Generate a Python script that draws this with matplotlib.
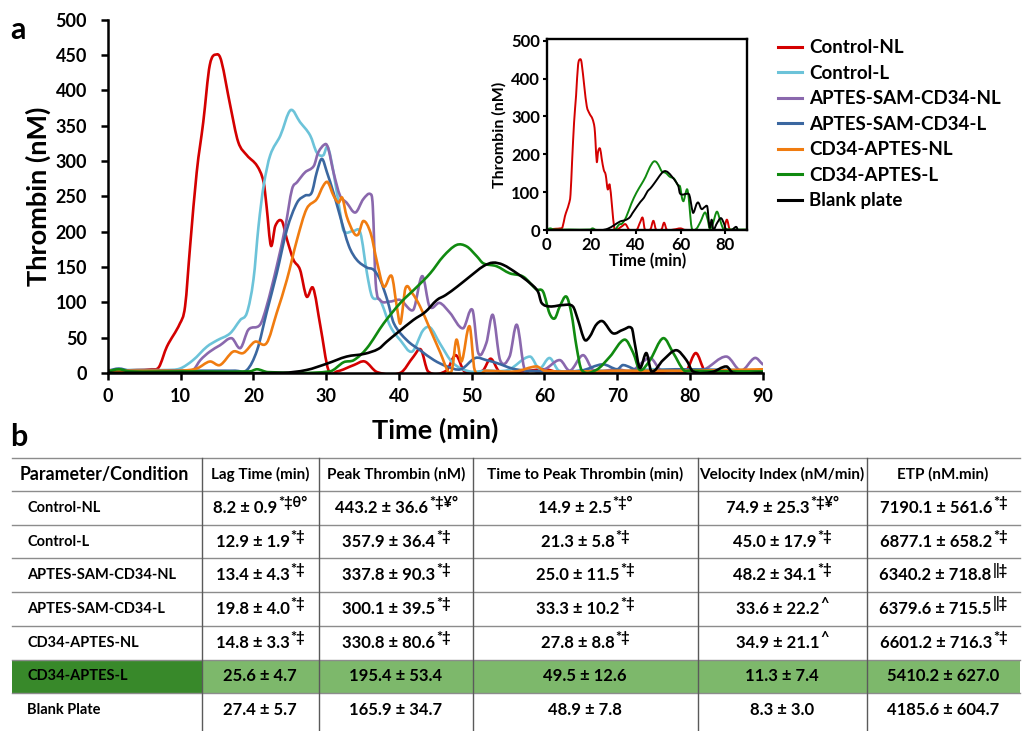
import matplotlib
matplotlib.use("Agg")
import matplotlib.pyplot as plt
from matplotlib.path import Path
from matplotlib.patches import PathPatch
from matplotlib.lines import Line2D

plt.rcParams['font.family'] = ['Lato', 'DejaVu Sans']
plt.rcParams['font.weight'] = 'bold'

# ---- thrombin generation curves (time in min, thrombin in nM) ----
ctrl_nl_t = [0, 2, 4, 6, 7, 8.1, 9.9, 10.6, 11.3, 12.2, 13.1, 14.0, 15.0, 15.6, 16.8, 17.9, 19.1, 20.5,
             21.4, 21.8, 22.4, 23.0, 23.9, 24.6, 25.5, 26.4, 27.3, 28.2, 29.2, 30.3, 31.5, 33.8, 35.3, 37,
             40.2, 42.0, 43.0, 44.0, 46.5, 47.8, 49.0, 51.5, 52.6, 53.8, 57, 60, 62, 78, 79.5, 80.8, 82.0, 83, 90]
ctrl_nl_v = [2, 3, 4, 5, 8, 37, 70, 94, 180, 284, 355, 436, 451, 441, 379, 327, 308, 293,
             270, 236, 180, 208, 215, 189, 160, 146, 108, 120, 66, 4, 2, 11, 16, 1,
             0, 23, 33, 2, 3, 25, 2, 3, 20, 2, 2, 5, 1, 1, 3, 28, 3, 1, 1]

ctrl_l_t = [0, 3, 6, 8, 9.9, 11.7, 13.6, 15, 16.8, 18.2, 19.1, 20.0, 20.7, 21.4, 22.3, 23.7, 25.1, 26.4,
            27.8, 28.7, 29.6, 30.2, 31.0, 31.9, 32.4, 33.8, 34.7, 35.6, 36.3, 37.4, 38.8, 40.2, 41.8, 43.3,
            44.3, 45.6, 47.4, 49.7, 52, 55, 58.0, 59.3, 60.7, 62.0, 66, 70, 75, 80, 85, 90]
ctrl_l_v = [3, 4, 4, 4, 6, 18, 37, 46, 56, 75, 85, 132, 208, 265, 308, 336, 372, 355,
            336, 312, 308, 320, 284, 227, 201, 201, 198, 141, 108, 103, 66, 46, 30, 60,
            64, 42, 14, 2, 3, 4, 23, 6, 21, 3, 4, 2, 5, 3, 4, 3]

sam_nl_t = [0, 4, 8, 10, 11.7, 12.7, 14.0, 15.4, 17.0, 18.2, 19.3, 20.9, 21.8, 23.2, 24.4, 25.3, 26.0,
            27.1, 28.3, 28.9, 29.9, 30.3, 31.0, 31.9, 32.8, 34.0, 35.1, 36.1, 36.4, 36.8, 37.4, 38.8, 40.2,
            41.6, 42.1, 43.2, 44.2, 45.6, 47.0, 48.8, 50.1, 50.9, 52.0, 52.9, 53.9, 55.2, 56.2, 57.3, 60,
            62.1, 63.5, 65.3, 66.7, 70, 72, 74.5, 76, 80, 82, 85, 87, 88.9, 90]
sam_nl_v = [3, 3, 3, 3, 4, 18, 30, 39, 49, 35, 61, 68, 94, 151, 208, 260, 270,
            284, 293, 312, 324, 317, 284, 251, 241, 227, 246, 253, 236, 127, 103, 101, 103,
            89, 92, 137, 94, 99, 85, 63, 89, 28, 42, 82, 18, 23, 68, 4, 5,
            18, 3, 25, 4, 5, 3, 21, 4, 3, 5, 23, 3, 21, 12]

sam_l_t = [0, 1.5, 3, 5, 8, 12, 16, 17.5, 19.1, 20.5, 21.8, 23.2, 24.6, 26.0, 27.1, 28.0, 28.7, 29.4,
           30.1, 31.0, 31.9, 33.1, 34.2, 35.6, 36.5, 37.4, 38.4, 39.3, 41.1, 42.9, 44.8, 46.6, 48.5, 50.5,
           52, 53.4, 56, 60, 65, 68, 70, 70.8, 73, 78, 85, 90]
sam_l_v = [3, 6, 3, 3, 3, 3, 3, 3, 4, 32, 85, 141, 203, 241, 251, 255, 284, 303,
           284, 255, 222, 180, 160, 149, 146, 132, 103, 70, 46, 32, 18, 9, 5, 21,
           18, 14, 5, 2, 3, 12, 5, 11, 3, 5, 4, 3]

cd_nl_t = [0, 4, 8, 10, 12.2, 14.0, 15.4, 17.2, 18.6, 20.2, 21.8, 23.2, 24.6, 26.0, 27.3, 28.7, 29.6,
           30.2, 31.0, 31.7, 32.2, 32.8, 33.8, 34.4, 35.1, 36.1, 37.0, 37.9, 39.0, 39.7, 40.2, 40.9, 41.8,
           42.9, 44.3, 45.7, 46.8, 47.3, 47.9, 48.6, 49.7, 50.4, 52, 56, 58.9, 60, 65, 70, 80, 90]
cd_nl_v = [3, 3, 3, 3, 6, 16, 11, 30, 28, 44, 42, 85, 132, 189, 232, 246, 265,
           270, 251, 241, 248, 222, 198, 196, 215, 198, 156, 122, 137, 94, 70, 120, 113,
           94, 61, 28, 1, 5, 47, 16, 66, 4, 3, 2, 9, 3, 2, 3, 3, 5]

cd_l_t = [0, 1.5, 3, 10, 19.5, 20.5, 22, 30.5, 32.4, 33.8, 35.6, 37.9, 40.2, 42.5, 44.3, 46.1, 47.9,
          49.3, 50.7, 51.6, 53.4, 55.2, 57.1, 58.9, 59.8, 60.7, 61.4, 62.1, 63.0, 63.7, 64.4, 65.1, 67.1,
          69.0, 71.0, 72.2, 73.1, 74.5, 76.3, 77.7, 79.1, 80, 85, 90]
cd_l_v = [2, 5, 2, 2, 2, 5, 1, 2, 15, 18, 35, 70, 99, 122, 141, 165, 181,
          179, 165, 155, 151, 141, 136, 118, 115, 84, 77, 94, 108, 84, 37, 4, 4,
          23, 47, 28, 4, 18, 49, 28, 4, 3, 2, 2]

blank_t = [0, 10, 24, 27.3, 30.1, 32.8, 35.3, 37.2, 38.3, 39.7, 42.0, 43.6, 45.2, 46.4, 48.0, 49.7, 51.6,
           52.9, 54.3, 56.2, 58.0, 59.1, 59.6, 60.7, 62.6, 63.9, 64.6, 65.5, 66.2, 67.1, 68.0, 69.4, 70.8,
           72.0, 72.4, 73.1, 74.0, 74.7, 76.3, 78.1, 79.5, 80.4, 83, 85, 85.9, 90]
blank_v = [0, 0, 0, 4, 13, 23, 27, 34, 44, 56, 75, 86, 103, 110, 122, 136, 151,
           156, 153, 141, 127, 115, 99, 94, 96, 94, 75, 47, 51, 68, 73, 56, 61,
           63, 42, 7, 28, 2, 18, 32, 18, 2, 1, 9, 0, 0]

series_names = ["Control-NL", "Control-L", "APTES-SAM-CD34-NL", "APTES-SAM-CD34-L",
                "CD34-APTES-NL", "CD34-APTES-L", "Blank plate"]
series_t = [ctrl_nl_t, ctrl_l_t, sam_nl_t, sam_l_t, cd_nl_t, cd_l_t, blank_t]
series_v = [ctrl_nl_v, ctrl_l_v, sam_nl_v, sam_l_v, cd_nl_v, cd_l_v, blank_v]
colors = ["#d40000", "#6cc3d9", "#8a68ad", "#3b67a0", "#f07c10", "#108a10", "#000000"]
inset_idx = [0, 5, 6]

# ---- table b ----
col_headers = ["Parameter/Condition", "Lag Time (min)", "Peak Thrombin (nM)",
               "Time to Peak Thrombin (min)", "Velocity Index (nM/min)", "ETP (nM.min)"]
row_names = ["Control-NL", "Control-L", "APTES-SAM-CD34-NL", "APTES-SAM-CD34-L",
             "CD34-APTES-NL", "CD34-APTES-L", "Blank Plate"]
# (value, superscript) per cell
lag_time = [("8.2 ± 0.9", "*‡θ°"), ("12.9 ± 1.9", "*‡"), ("13.4 ± 4.3", "*‡"), ("19.8 ± 4.0", "*‡"),
            ("14.8 ± 3.3", "*‡"), ("25.6 ± 4.7", ""), ("27.4 ± 5.7", "")]
peak = [("443.2 ± 36.6", "*‡¥°"), ("357.9 ± 36.4", "*‡"), ("337.8 ± 90.3", "*‡"), ("300.1 ± 39.5", "*‡"),
        ("330.8 ± 80.6", "*‡"), ("195.4 ± 53.4", ""), ("165.9 ± 34.7", "")]
ttp = [("14.9 ± 2.5", "*‡°"), ("21.3 ± 5.8", "*‡"), ("25.0 ± 11.5", "*‡"), ("33.3 ± 10.2", "*‡"),
       ("27.8 ± 8.8", "*‡"), ("49.5 ± 12.6", ""), ("48.9 ± 7.8", "")]
velocity = [("74.9 ± 25.3", "*‡¥°"), ("45.0 ± 17.9", "*‡"), ("48.2 ± 34.1", "*‡"), ("33.6 ± 22.2", "^"),
            ("34.9 ± 21.1", "^"), ("11.3 ± 7.4", ""), ("8.3 ± 3.0", "")]
etp = [("7190.1 ± 561.6", "*‡"), ("6877.1 ± 658.2", "*‡"), ("6340.2 ± 718.8", "‖‡"), ("6379.6 ± 715.5", "‖‡"),
       ("6601.2 ± 716.3", "*‡"), ("5410.2 ± 627.0", ""), ("4185.6 ± 604.7", "")]
table_cols = [lag_time, peak, ttp, velocity, etp]
highlight_row = 5


def smooth_line(ax, t, v, color, lw):
    # draw the points as a smoothed (cubic) curve, like a spreadsheet "smooth line"
    n = len(t)
    slopes = []
    for i in range(n):
        if i == 0:
            s = (v[1] - v[0]) / (t[1] - t[0])
        elif i == n - 1:
            s = (v[-1] - v[-2]) / (t[-1] - t[-2])
        else:
            s = (v[i + 1] - v[i - 1]) / (t[i + 1] - t[i - 1])
        slopes.append(s)
    verts = [(t[0], v[0])]
    codes = [Path.MOVETO]
    for i in range(n - 1):
        h = t[i + 1] - t[i]
        verts += [(t[i] + h / 3, v[i] + slopes[i] * h / 3),
                  (t[i + 1] - h / 3, v[i + 1] - slopes[i + 1] * h / 3),
                  (t[i + 1], v[i + 1])]
        codes += [Path.CURVE4] * 3
    ax.add_patch(PathPatch(Path(verts, codes), fill=False, edgecolor=color, lw=lw,
                           joinstyle='round', capstyle='round'))


fig = plt.figure(figsize=(10.28, 7.31), dpi=100)

# ---- panel a: main chart ----
ax = fig.add_axes([0.105, 0.490, 0.637, 0.483])
for t, v, c in zip(series_t, series_v, colors):
    smooth_line(ax, t, v, c, 1.9)
ax.set_xlim(0, 90)
ax.set_ylim(0, 500)
ax.set_xticks(range(0, 91, 10))
ax.set_yticks(range(0, 501, 50))
ax.spines[['top', 'right']].set_visible(False)
ax.spines[['left', 'bottom']].set_linewidth(1.8)
ax.tick_params(direction='out', width=1.8, length=5, labelsize=13)
ax.tick_params(axis='y', pad=10)
ax.tick_params(axis='x', pad=6)
ax.set_xlabel("Time (min)", fontsize=19.5, fontweight='bold', labelpad=9)
ax.set_ylabel("Thrombin (nM)", fontsize=19.5, fontweight='bold', labelpad=3)
handles = [Line2D([], [], color=c, lw=2.2) for c in colors]
ax.legend(handles, series_names, loc='upper left', bbox_to_anchor=(0.757, 0.946),
          bbox_transform=fig.transFigure, frameon=False, fontsize=13.5, handlelength=1.25,
          handletextpad=0.4, labelspacing=0.45, borderpad=0, borderaxespad=0)

# ---- inset ----
axi = fig.add_axes([0.532, 0.685, 0.195, 0.262])
for i in inset_idx:
    smooth_line(axi, series_t[i], series_v[i], colors[i], 1.4)
axi.set_xlim(0, 90)
axi.set_ylim(0, 505)
axi.set_xticks(range(0, 81, 20))
axi.set_yticks(range(0, 501, 100))
for s in axi.spines.values():
    s.set_linewidth(1.7)
axi.tick_params(direction='out', width=1.5, length=3, labelsize=12, pad=2)
axi.set_xlabel("Time (min)", fontsize=12, fontweight='bold', labelpad=0)
axi.set_ylabel("Thrombin (nM)", fontsize=11.5, fontweight='bold', labelpad=3)

fig.text(10 / 1028, 1 - 30 / 731, "a", fontsize=22, fontweight='bold', va='center')
fig.text(10 / 1028, 1 - 437 / 731, "b", fontsize=22, fontweight='bold', va='center')

# ---- panel b: table drawn in pixel coordinates ----
tab = fig.add_axes([0, 0, 1, 1], zorder=-1)
tab.set_xlim(0, 1028)
tab.set_ylim(731, 0)
tab.axis('off')

x_left, x_right = 12, 1020
col_edges = [202, 319, 473, 698, 867]
col_centers = [260, 396, 585, 782, 943]
y_top, header_h, row_h = 458, 33, 33.7
row_lines = [y_top, y_top + header_h] + [y_top + header_h + row_h * (k + 1) for k in range(len(row_names))]
row_centers = [y_top + header_h + row_h * (k + 0.5) for k in range(len(row_names))]

# highlighted row
hy0 = row_lines[highlight_row + 1]
tab.fill_between([x_left, col_edges[0]], hy0, hy0 + row_h, color="#38892a", lw=0)
tab.fill_between([col_edges[0], x_right], hy0, hy0 + row_h, color="#7db86b", lw=0)

for y in row_lines[:-1]:
    tab.plot([x_left, x_right], [y, y], color="#8c8c8c", lw=1.0)
for x in col_edges:
    tab.plot([x, x], [y_top, 731], color="#5a5a5a", lw=1.0)

tab.text(20, y_top + header_h / 2, col_headers[0], fontsize=12.8, fontweight='bold', va='center', ha='left')
for hdr, xc in zip(col_headers[1:], col_centers):
    tab.text(xc, y_top + header_h / 2, hdr, fontsize=11, fontweight='bold', va='center', ha='center')

for name, yc in zip(row_names, row_centers):
    tab.text(27, yc, name, fontsize=10.5, fontweight='bold', va='center', ha='left')

renderer = fig.canvas.get_renderer()
for cells, xc in zip(table_cols, col_centers):
    for (base, sup), yc in zip(cells, row_centers):
        tb = tab.text(0, yc, base, fontsize=12, fontweight='bold', va='center', ha='left')
        wb = tb.get_window_extent(renderer).width
        ws = 0
        ts = None
        if sup:
            ts = tab.text(0, yc - 5, sup, fontsize=10.5, fontweight='bold', va='center', ha='left')
            ws = ts.get_window_extent(renderer).width
        x0 = xc - (wb + ws) / 2
        tb.set_x(x0)
        if ts is not None:
            ts.set_x(x0 + wb + 1)

fig.savefig("out.png", dpi=100)
